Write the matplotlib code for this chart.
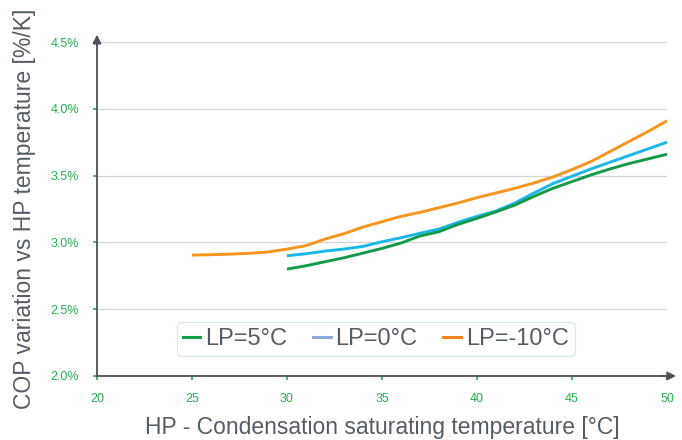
import matplotlib
matplotlib.use("Agg")
import matplotlib.pyplot as plt
from matplotlib.lines import Line2D
from matplotlib.ticker import FuncFormatter

# condensation temperature [C]
x_m10 = list(range(25, 51))
x_lp = list(range(30, 51))

# COP variation [%/K]
cop_m10 = [2.905, 2.908, 2.912, 2.918, 2.928, 2.95, 2.975, 3.025, 3.065, 3.115,
           3.155, 3.195, 3.225, 3.26, 3.295, 3.335, 3.37, 3.405, 3.445, 3.49,
           3.545, 3.605, 3.68, 3.755, 3.83, 3.91]
cop_0 = [2.90, 2.915, 2.935, 2.95, 2.97, 3.005, 3.035, 3.068, 3.10, 3.15, 3.195,
         3.235, 3.295, 3.37, 3.44, 3.495, 3.55, 3.60, 3.65, 3.70, 3.75]
cop_5 = [2.80, 2.825, 2.855, 2.885, 2.92, 2.955, 2.995, 3.048, 3.08, 3.135, 3.18,
         3.228, 3.28, 3.345, 3.405, 3.455, 3.505, 3.55, 3.59, 3.625, 3.66]

legend_labels = ["LP=5°C", "LP=0°C", "LP=-10°C"]
x_ticks = [20, 25, 30, 35, 40, 45, 50]
y_ticks = [2.0, 2.5, 3.0, 3.5, 4.0, 4.5]

plt.rcParams['font.family'] = ['Liberation Sans', 'DejaVu Sans']

tick_green = "#22b14c"
axis_grey = "#4d5358"
text_grey = "#555c63"

fig = plt.figure(figsize=(6.82, 4.4), dpi=100)
ax = fig.add_axes([0.1422, 0.1455, 0.8358, 0.759])

ax.plot(x_m10, cop_m10, color="#f7941d", lw=2.1, solid_capstyle="butt")
ax.plot(x_lp, cop_0, color="#1bb6ea", lw=2.1, solid_capstyle="butt")
ax.plot(x_lp, cop_5, color="#139a48", lw=2.1, solid_capstyle="butt")

ax.set_xlim(20, 50)
ax.set_ylim(2.0, 4.5)
ax.set_xticks(x_ticks)
ax.set_yticks(y_ticks)
ax.yaxis.set_major_formatter(FuncFormatter(lambda v, p: f"{v:.1f}%"))

for y in y_ticks[1:]:
    ax.axhline(y, color="#d4d4d4", lw=0.9, zorder=0)

for s in ["top", "right"]:
    ax.spines[s].set_visible(False)
for s in ["left", "bottom"]:
    ax.spines[s].set_color(axis_grey)
    ax.spines[s].set_linewidth(1.3)

# arrow heads on axes
ax.annotate("", xy=(0, 1.022), xytext=(0, 0.99), xycoords="axes fraction",
            arrowprops=dict(arrowstyle="-|>,head_width=0.25,head_length=0.5",
                            color=axis_grey, lw=1.3, shrinkA=0, shrinkB=0),
            annotation_clip=False)
ax.annotate("", xy=(1.016, 0), xytext=(0.99, 0), xycoords="axes fraction",
            arrowprops=dict(arrowstyle="-|>,head_width=0.25,head_length=0.5",
                            color=axis_grey, lw=1.3, shrinkA=0, shrinkB=0),
            annotation_clip=False)

ax.tick_params(axis="both", colors=tick_green, labelsize=9, length=3, width=1.2)
ax.tick_params(axis="x", pad=9)
ax.tick_params(axis="y", pad=10)

ax.set_xlabel("HP - Condensation saturating temperature [°C]", fontsize=16.5,
              color=text_grey, labelpad=8)
ax.set_ylabel("COP variation vs HP temperature [%/K]", fontsize=16.5,
              color=text_grey, labelpad=10)

handles = [Line2D([], [], color="#0f9d48", lw=2.2),
           Line2D([], [], color="#8eaadb", lw=2.2),
           Line2D([], [], color="#f58220", lw=2.2)]
leg = ax.legend(handles, legend_labels, ncol=3, loc="center",
                bbox_to_anchor=(0.489, 0.111), fontsize=17, frameon=True,
                handlelength=0.75, handletextpad=0.2, columnspacing=1.1,
                borderpad=0.25, borderaxespad=0, fancybox=True)
leg.get_frame().set_edgecolor("#cbe7d4")
leg.get_frame().set_linewidth(0.8)
for t in leg.get_texts():
    t.set_color(text_grey)

fig.savefig("out.png", dpi=100)
